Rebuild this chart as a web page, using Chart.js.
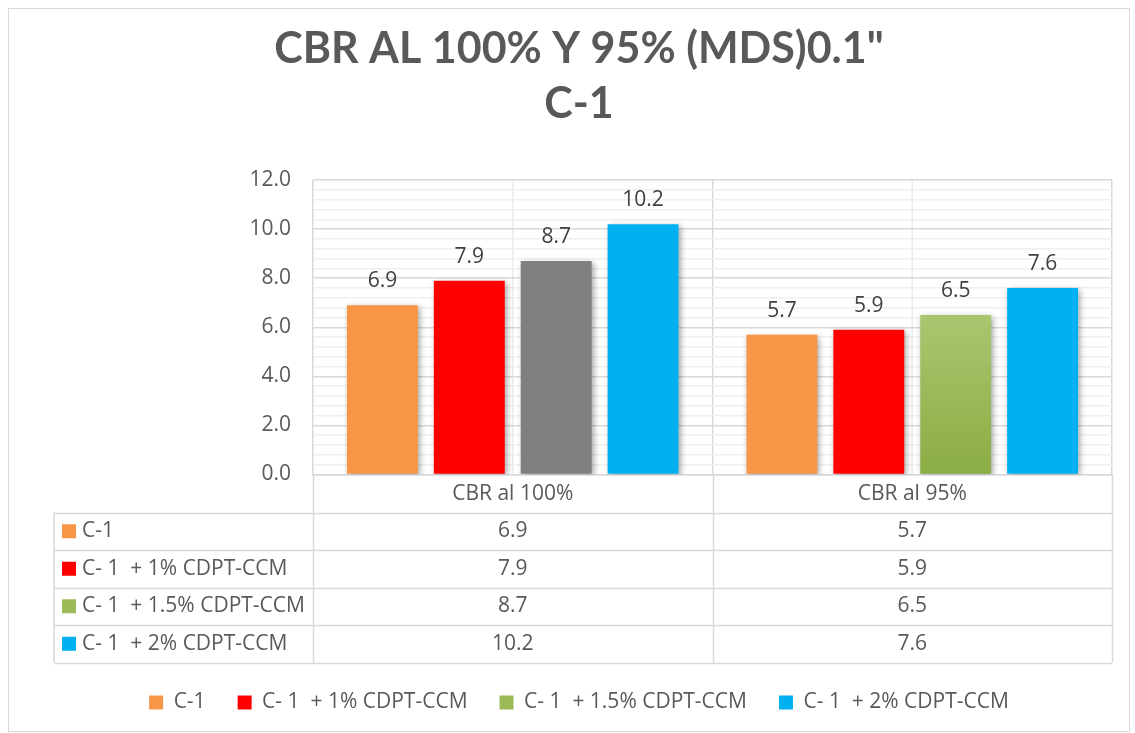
<!DOCTYPE html>
<html>
<head>
<meta charset="utf-8">
<script src="https://cdn.jsdelivr.net/npm/chart.js@4.4.1/dist/chart.umd.min.js"></script>
<style>
  html, body { margin: 0; padding: 0; background: #fff; }
  #contenedor { position: relative; width: 1135px; height: 733px; }
</style>
</head>
<body>
<div id="contenedor"><canvas id="graficaCBR"></canvas></div>
<script>
// datos
const categorias = ["CBR al 100%", "CBR al 95%"];
const series = ["C-1", "C- 1  + 1% CDPT-CCM", "C- 1  + 1.5% CDPT-CCM", "C- 1  + 2% CDPT-CCM"];
const valoresC1 = [6.9, 5.7];
const valores1 = [7.9, 5.9];
const valores15 = [8.7, 6.5];
const valores2 = [10.2, 7.6];
const ejeYMax = 12;
const ejeYPaso = 2;

const coloresLeyenda = ["#F79646", "#FF0000", "#9BBB59", "#00B0F0"];
const textoGris = "#595959";
const lineaGris = "#d9d9d9";
const fuente = "'Open Sans', 'Noto Sans', sans-serif";

function verdeDegradado(ctx) {
  if (ctx.dataIndex === 0) return "#808080";
  const chart = ctx.chart;
  if (!chart.chartArea || !chart.scales.y) return "#9BBB59";
  const y0 = chart.scales.y.getPixelForValue(ctx.raw);
  const y1 = chart.scales.y.getPixelForValue(0);
  const g = chart.ctx.createLinearGradient(0, y0, 0, y1);
  g.addColorStop(0, "#aac66f");
  g.addColorStop(1, "#8bad45");
  return g;
}

const todasLasSeries = [valoresC1, valores1, valores15, valores2];

const extras = {
  id: "extrasExcel",
  beforeDraw(chart) {
    const ctx = chart.ctx;
    ctx.save();
    ctx.strokeStyle = lineaGris;
    ctx.lineWidth = 1;
    ctx.strokeRect(8.5, 8.5, 1121, 723);
    // lineas verticales menores en medio de cada categoria
    const xs = chart.scales.x;
    const area = chart.chartArea;
    const ancho = xs.width / categorias.length;
    ctx.strokeStyle = "#ececec";
    ctx.lineWidth = 1.5;
    for (let i = 0; i < categorias.length; i++) {
      const x = xs.left + ancho * (i + 0.5);
      ctx.beginPath();
      ctx.moveTo(x, area.top);
      ctx.lineTo(x, area.bottom);
      ctx.stroke();
    }
    ctx.restore();
  },
  beforeDatasetsDraw(chart) {
    const ctx = chart.ctx;
    ctx.save();
    ctx.shadowColor = "rgba(0,0,0,0.35)";
    ctx.shadowBlur = 6;
    ctx.shadowOffsetX = 2;
    ctx.shadowOffsetY = 2;
  },
  afterDatasetsDraw(chart) {
    const ctx = chart.ctx;
    ctx.restore();
    ctx.save();
    ctx.font = "21px " + fuente;
    ctx.fillStyle = "#404040";
    ctx.textAlign = "center";
    ctx.textBaseline = "middle";
    chart.data.datasets.forEach((ds, i) => {
      chart.getDatasetMeta(i).data.forEach((bar, j) => {
        ctx.fillText(ds.data[j].toFixed(1), bar.x, bar.y - 24);
      });
    });
    ctx.restore();
  },
  afterDraw(chart) {
    const ctx = chart.ctx;
    const xs = chart.scales.x;
    const area = chart.chartArea;
    const ancho = xs.width / categorias.length;
    const filaCat = 38;
    const altoFila = 37.5;
    const tablaTop = area.bottom + filaCat;
    const tablaBottom = tablaTop + altoFila * series.length;
    const tablaLeft = 54;
    ctx.save();
    ctx.strokeStyle = lineaGris;
    ctx.lineWidth = 1.5;
    // verticales
    for (let i = 0; i <= categorias.length; i++) {
      const x = Math.round(xs.left + ancho * i) + 0.5;
      ctx.beginPath();
      ctx.moveTo(x, area.bottom);
      ctx.lineTo(x, tablaBottom);
      ctx.stroke();
    }
    ctx.beginPath();
    ctx.moveTo(tablaLeft, tablaTop);
    ctx.lineTo(tablaLeft, tablaBottom);
    ctx.stroke();
    // horizontales
    for (let r = 0; r <= series.length; r++) {
      const y = Math.round(tablaTop + altoFila * r) + 0.5;
      ctx.beginPath();
      ctx.moveTo(tablaLeft, y);
      ctx.lineTo(xs.right, y);
      ctx.stroke();
    }
    // etiquetas de categoria
    ctx.font = "21px " + fuente;
    ctx.fillStyle = textoGris;
    ctx.textAlign = "center";
    ctx.textBaseline = "middle";
    categorias.forEach((c, i) => {
      ctx.fillText(c, xs.left + ancho * (i + 0.5), area.bottom + filaCat / 2 + 1);
    });
    // filas de la tabla
    ctx.font = "21px " + fuente;
    series.forEach((s, r) => {
      const yc = tablaTop + altoFila * (r + 0.5);
      ctx.fillStyle = coloresLeyenda[r];
      ctx.fillRect(62, yc - 7, 14, 14);
      ctx.fillStyle = textoGris;
      ctx.textAlign = "left";
      ctx.fillText(s, 82, yc);
      ctx.textAlign = "center";
      todasLasSeries[r].forEach((v, i) => {
        ctx.fillText(v.toFixed(1), xs.left + ancho * (i + 0.5), yc);
      });
    });
    ctx.restore();
  },
};

new Chart(document.getElementById("graficaCBR"), {
  type: "bar",
  data: {
    labels: categorias,
    datasets: [
      { label: series[0], data: valoresC1, backgroundColor: "#F79646" },
      { label: series[1], data: valores1, backgroundColor: "#FF0000" },
      { label: series[2], data: valores15, backgroundColor: verdeDegradado },
      { label: series[3], data: valores2, backgroundColor: "#00B0F0" },
    ],
  },
  options: {
    responsive: true,
    maintainAspectRatio: false,
    animation: false,
    datasets: { bar: { categoryPercentage: 0.87, barPercentage: 0.816 } },
    layout: { padding: { left: 46, right: 23, top: 0, bottom: 10 } },
    plugins: {
      tooltip: { enabled: false },
      title: {
        display: true,
        text: ['CBR AL 100% Y 95% (MDS)0.1"', "C-1"],
        color: textoGris,
        font: { family: "Lato, 'Open Sans', sans-serif", size: 43, weight: "bold", lineHeight: 1.28 },
        padding: { top: 22, bottom: 48 },
      },
      legend: {
        position: "bottom",
        labels: {
          color: textoGris,
          font: { family: fuente, size: 21 },
          boxWidth: 14,
          boxHeight: 14,
          padding: 32,
          generateLabels: () =>
            series.map((s, i) => ({
              text: s,
              fillStyle: coloresLeyenda[i],
              strokeStyle: coloresLeyenda[i],
              lineWidth: 0,
              fontColor: textoGris,
              hidden: false,
              datasetIndex: i,
            })),
        },
      },
    },
    scales: {
      x: {
        ticks: { display: false },
        grid: { color: lineaGris, lineWidth: 1.5, drawTicks: false },
        border: { display: true, color: lineaGris, width: 1.5 },
        afterFit: (scale) => { scale.height = 185.5; },
      },
      y: {
        min: 0,
        max: ejeYMax,
        ticks: {
          stepSize: 0.4,
          autoSkip: false,
          padding: 22,
          color: textoGris,
          font: { family: fuente, size: 21 },
          callback: (v) => {
            const k = v / ejeYPaso;
            return Math.abs(k - Math.round(k)) < 1e-6 ? Number(v).toFixed(1) : "";
          },
        },
        grid: {
          drawTicks: false,
          lineWidth: 1.5,
          color: (c) => {
            const k = c.tick.value / ejeYPaso;
            return Math.abs(k - Math.round(k)) < 1e-6 ? lineaGris : "#efefef";
          },
        },
        border: { display: false },
        afterFit: (scale) => { scale.width = 267; },
      },
    },
  },
  plugins: [extras],
});
</script>
</body>
</html>
